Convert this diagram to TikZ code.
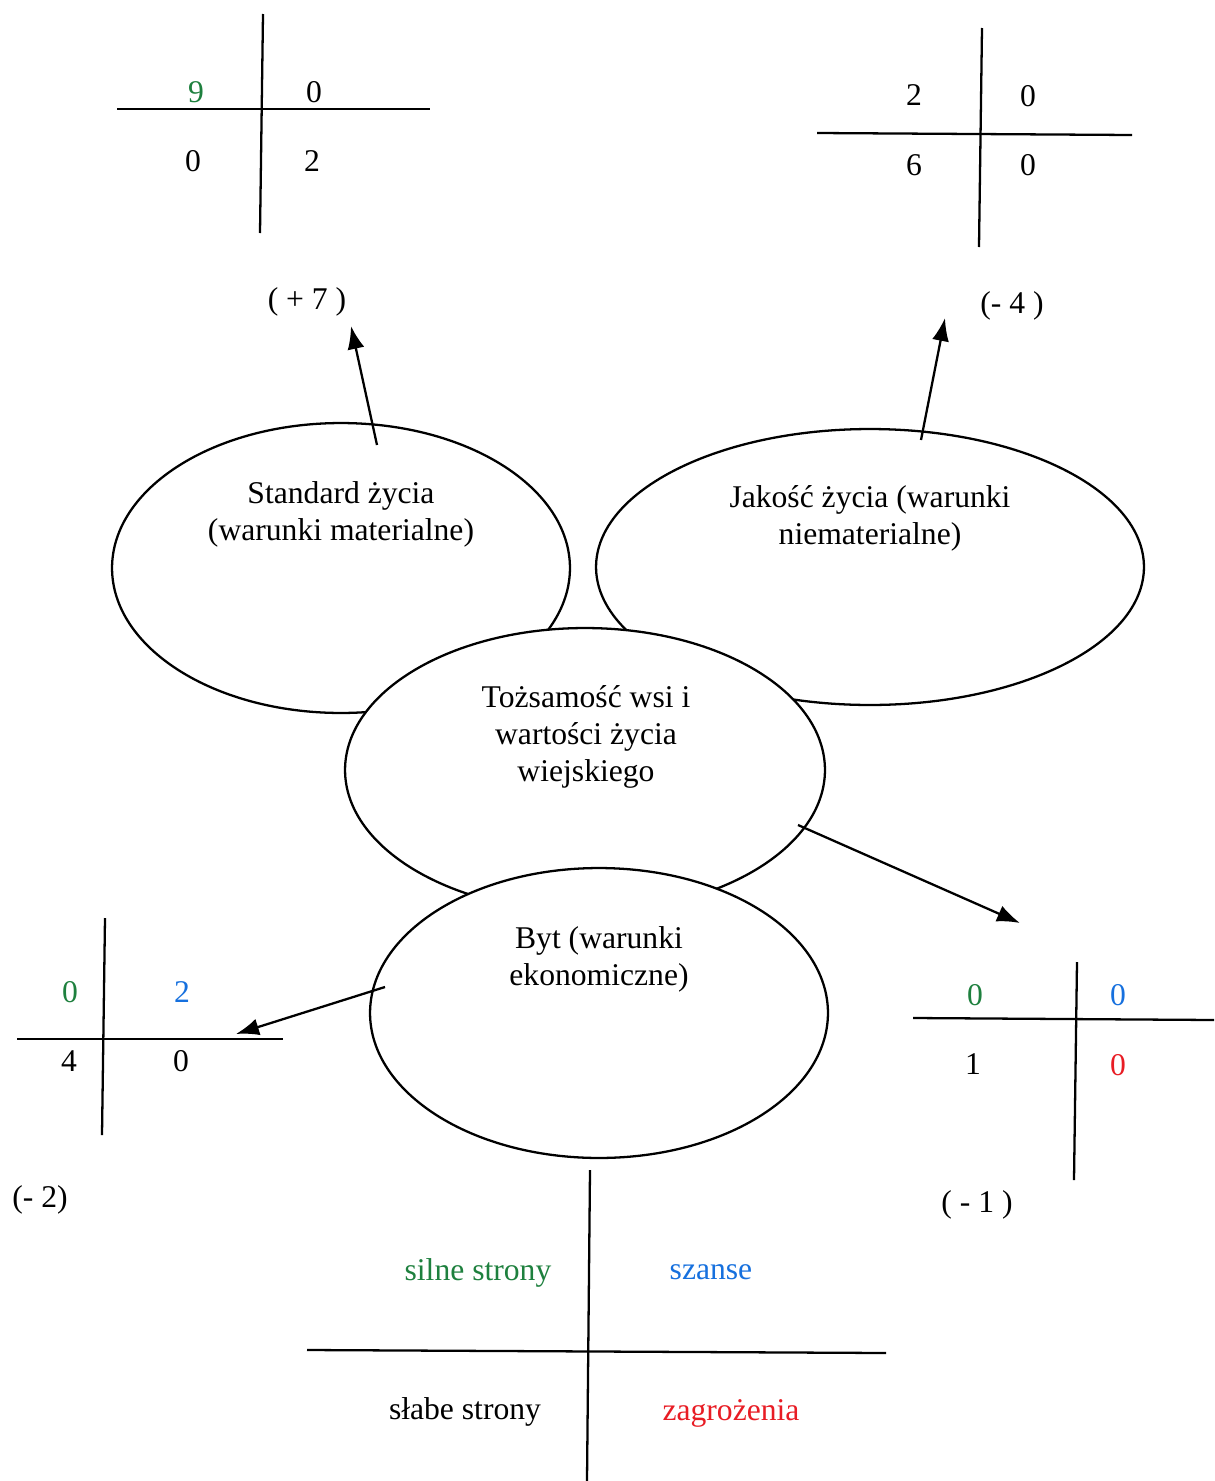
\documentclass[tikz,border=0pt]{standalone}
\usepackage{fontspec}
\setmainfont{Liberation Serif}
\usepackage{tikz}
\usetikzlibrary{positioning,calc,arrows.meta,shapes.geometric}
\usepackage{xcolor}

\definecolor{swotGreen}{RGB}{30,128,62}
\definecolor{swotBlue}{RGB}{22,112,222}
\definecolor{swotRed}{RGB}{232,28,36}

\begin{document}
\begin{tikzpicture}[
    x=0.02cm, y=-0.02cm,
    oval/.style={ellipse, draw=black, fill=white, line width=1.3pt, inner sep=0pt},
    ln/.style={line width=1.3pt, black},
    arr/.style={-{Latex[length=4.6mm, width=3.4mm]}, line width=1.3pt},
    txt/.style={font=\fontsize{18}{21}\selectfont, align=center, inner sep=1pt},
    num/.style={font=\fontsize{18}{21}\selectfont, inner sep=1pt},
]
\useasboundingbox (0,0) rectangle (1214,1481);

% four fields, later ones hide the earlier
\node[oval, minimum width=9.16cm, minimum height=5.8cm] (std) at (341,568) {};
\node[oval, minimum width=10.96cm, minimum height=5.52cm] (jak) at (870,567) {};
\node[oval, minimum width=9.6cm, minimum height=5.68cm] (toz) at (585,770) {};
\node[oval, minimum width=9.16cm, minimum height=5.8cm] (byt) at (599,1013) {};

\node[txt] (stdT) at (341,514) {Standard życia\\(warunki materialne)};
\node[txt] (jakT) at (870,518) {Jakość życia (warunki\\niematerialne)};
\node[txt] (tozT) at (586,737) {Tożsamość wsi i\\wartości życia\\wiejskiego};
\node[txt] (bytT) at (599,959) {Byt (warunki\\ekonomiczne)};

% arrows out of the fields
\coordinate (stdOut) at (377,445);
\coordinate (stdTip) at (351,326);
\coordinate (jakOut) at (921,440);
\coordinate (jakTip) at (945,318);
\coordinate (tozOut) at (798,825);
\coordinate (tozTip) at (1020,923);
\coordinate (bytOut) at (385,987);
\coordinate (bytTip) at (236,1034);
\draw[arr] (stdOut) -- (stdTip);
\draw[arr] (jakOut) -- (jakTip);
\draw[arr] (tozOut) -- (tozTip);
\draw[arr] (bytOut) -- (bytTip);

\node[num] (stdVal) at (307,302) {( + 7 )};
\node[num] (jakVal) at (1012,306) {(- 4 )};
\node[num] (bytVal) at (40,1200) {(- 2)};
\node[num] (tozVal) at (977,1205) {( - 1 )};

% standard zycia
\draw[ln] (263,14) -- (260,233);
\draw[ln] (117,109) -- (430,109);
\node[num, swotGreen] (stdS) at (196,92) {9};
\node[num] (stdO) at (314,92) {0};
\node[num] (stdW) at (193,161) {0};
\node[num] (stdZ) at (312,161) {2};

% jakosc zycia
\draw[ln] (982,28) -- (979,247);
\draw[ln] (817,133) -- (1132,135);
\node[num] (jakS) at (914,95) {2};
\node[num] (jakO) at (1028,96) {0};
\node[num] (jakW) at (914,165) {6};
\node[num] (jakZ) at (1028,165) {0};

% byt
\draw[ln] (105,918) -- (102,1135);
\draw[ln] (17,1039) -- (283,1039);
\node[num, swotGreen] (bytS) at (70,992) {0};
\node[num, swotBlue] (bytO) at (182,992) {2};
\node[num] (bytW) at (69,1061) {4};
\node[num] (bytZ) at (181,1061) {0};

% tozsamosc
\draw[ln] (1077,962) -- (1074,1180);
\draw[ln] (913,1018) -- (1214,1020);
\node[num, swotGreen] (tozS) at (975,995) {0};
\node[num, swotBlue] (tozO) at (1118,995) {0};
\node[num] (tozW) at (973,1064) {1};
\node[num, swotRed] (tozZ) at (1118,1065) {0};

% legend
\draw[ln] (590,1170) -- (587,1481);
\draw[ln] (307,1350) -- (886,1353);
\node[num, swotGreen] (legS) at (478,1273) {silne strony};
\node[num, swotBlue] (legO) at (711,1272) {szanse};
\node[num] (legW) at (465,1412) {słabe strony};
\node[num, swotRed] (legZ) at (731,1413) {zagrożenia};
\end{tikzpicture}
\end{document}
